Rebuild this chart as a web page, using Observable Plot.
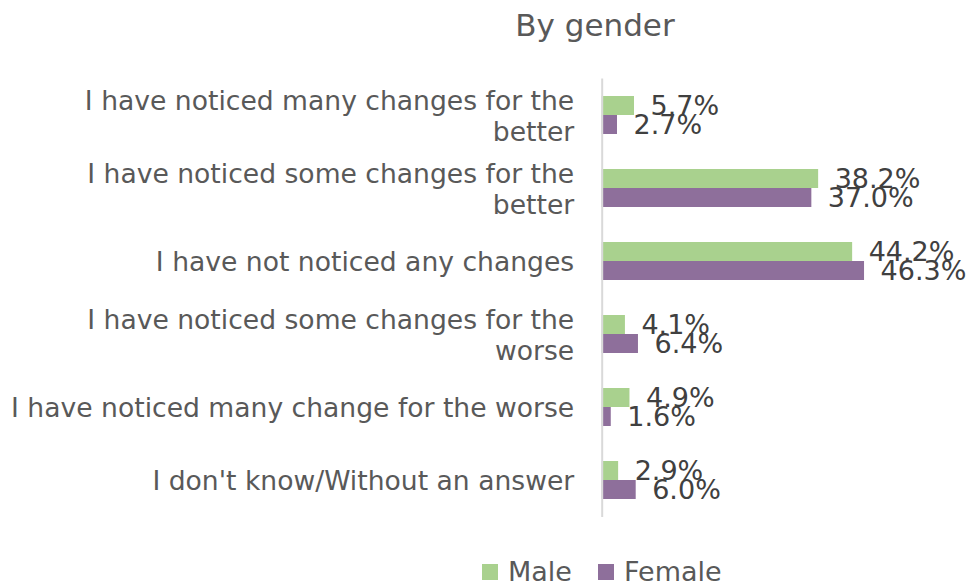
<!DOCTYPE html>
<html>
<head>
<meta charset="utf-8">
<script src="https://cdn.jsdelivr.net/npm/d3@7"></script>
<script src="https://cdn.jsdelivr.net/npm/@observablehq/plot@0.6"></script>
<style>
  html, body { margin: 0; padding: 0; background: #fff; }
  #wrap { position: relative; width: 968px; height: 586px; overflow: hidden;
    font-family: "DejaVu Sans", sans-serif; }
  #title { position: absolute; left: 395px; width: 400px; top: 5px; text-align: center;
    font-size: 31px; color: #595959; line-height: 40px; }
  #legend { position: absolute; left: 482px; top: 555px; display: flex; align-items: center;
    font-size: 27px; color: #595959; line-height: 34px; white-space: nowrap; }
  #legend .sw { display: inline-block; width: 16px; height: 16px; margin-right: 10px; }
  #legend .item { display: flex; align-items: center; margin-right: 26px; }
  #chart { position: absolute; left: 0; top: 0; }
</style>
</head>
<body>
<div id="wrap">
  <div id="chart"></div>
  <div id="title">By gender</div>
  <div id="legend"></div>
</div>
<script>
const categories = [
  "I have noticed many changes for the better",
  "I have noticed some changes for the better",
  "I have not noticed any changes",
  "I have noticed some changes for the worse",
  "I have noticed many change for the worse",
  "I don't know/Without an answer"
];
const tickLabels = [
  "I have noticed many changes for the\nbetter",
  "I have noticed some changes for the\nbetter",
  "I have not noticed any changes",
  "I have noticed some changes for the\nworse",
  "I have noticed many change for the worse",
  "I don't know/Without an answer"
];
const series = ["Male", "Female"];
const maleValues = [5.7, 38.2, 44.2, 4.1, 4.9, 2.9];
const femaleValues = [2.7, 37.0, 46.3, 6.4, 1.6, 6.0];
const colors = ["#A9D18E", "#8E6F9B"];

const male = categories.map((c, i) => ({category: c, gender: "Male", value: maleValues[i]}));
const female = categories.map((c, i) => ({category: c, gender: "Female", value: femaleValues[i]}));
const labelOf = new Map(categories.map((c, i) => [c, tickLabels[i]]));
const fmt = d => d.value.toFixed(1) + "%";
const font = '"DejaVu Sans", sans-serif';

const chart = Plot.plot({
  width: 968,
  height: 586,
  marginLeft: 601.7,
  marginRight: 83,
  marginTop: 78.5,
  marginBottom: 68.9,
  style: {fontFamily: font, background: "transparent", overflow: "visible"},
  x: {domain: [0, 50], axis: null},
  y: {domain: categories, paddingInner: 0.48, paddingOuter: 0.24, label: null},
  marks: [
    Plot.axisY({
      tickSize: 0,
      tickPadding: 28,
      fontSize: 26.6,
      lineHeight: 1.17,
      fill: "#595959",
      tickFormat: c => labelOf.get(c),
      label: null
    }),
    Plot.barX(male, {x: "value", y: "category", fill: colors[0], insetBottom: 19}),
    Plot.barX(female, {x: "value", y: "category", fill: colors[1], insetTop: 19}),
    Plot.ruleX([0], {stroke: "#d9d9d9", strokeWidth: 2}),
    Plot.text(male, {x: "value", y: "category", text: fmt, textAnchor: "start", dx: 16, dy: -9.5,
      fontSize: 27, fill: "#404040"}),
    Plot.text(female, {x: "value", y: "category", text: fmt, textAnchor: "start", dx: 16, dy: 9.5,
      fontSize: 27, fill: "#404040"})
  ]
});
document.getElementById("chart").appendChild(chart);

const legend = document.getElementById("legend");
series.forEach((s, i) => {
  const item = document.createElement("span");
  item.className = "item";
  const sw = document.createElement("span");
  sw.className = "sw";
  sw.style.background = colors[i];
  item.appendChild(sw);
  item.appendChild(document.createTextNode(s));
  legend.appendChild(item);
});
</script>
</body>
</html>
